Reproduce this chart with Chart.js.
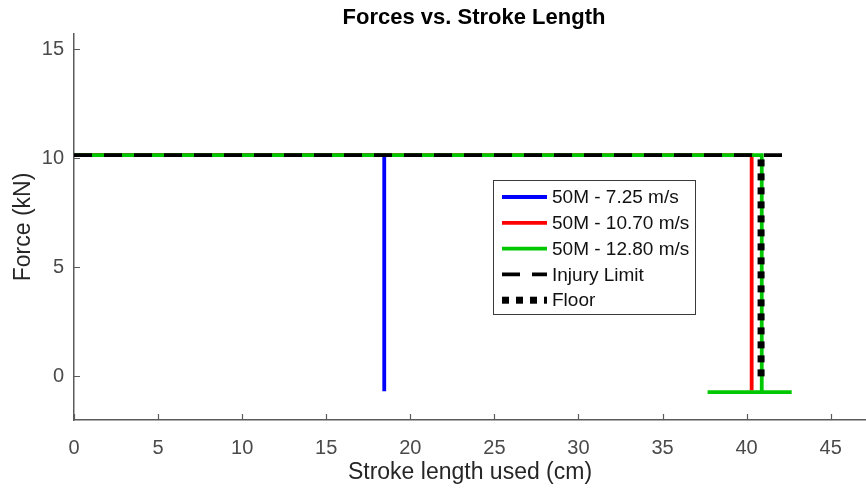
<!DOCTYPE html>
<html>
<head>
<meta charset="utf-8">
<script src="https://cdn.jsdelivr.net/npm/chart.js@4.4.1/dist/chart.umd.min.js"></script>
<style>
  body { margin: 0; background: #fff; }
  canvas { display: block; }
</style>
</head>
<body>
<canvas id="forceChart" width="866" height="489"></canvas>
<script>
// values (x in cm, y in kN)
const seriesLabels = ['50M - 7.25 m/s', '50M - 10.70 m/s', '50M - 12.80 m/s', 'Injury Limit', 'Floor'];

const blueX = [0, 18.45, 18.45];
const blueY = [10.15, 10.15, -0.68];
const redX = [0, 40.3, 40.3];
const redY = [10.15, 10.15, -0.65];
const greenX = [0, 40.9, 40.9, 37.68, 42.68];
const greenY = [10.15, 10.15, -0.72, -0.72, -0.72];
const injuryX = [0, 42.3];
const injuryY = [10.15, 10.15];
const floorX = [40.86, 40.86];
const floorY = [0, 10];

const xTicks = [0, 5, 10, 15, 20, 25, 30, 35, 40, 45];
const yTicks = [0, 5, 10, 15];

const FONT = '"Liberation Sans", Arial, sans-serif';

function pts(xs, ys) {
    return xs.map((x, i) => ({ x: x, y: ys[i] }));
}

function series(i, xs, ys, color, width, dash, order) {
    return {
        label: seriesLabels[i],
        data: pts(xs, ys),
        borderColor: color,
        backgroundColor: color,
        borderWidth: width,
        borderDash: dash,
        borderCapStyle: 'butt',
        borderJoinStyle: 'miter',
        showLine: true,
        pointRadius: 0,
        tension: 0,
        order: order
    };
}

// title centred over the plot area, like the original figure
const titlePlugin = {
    id: 'plotTitle',
    afterDraw(chart) {
        const { ctx, chartArea } = chart;
        ctx.save();
        ctx.font = 'bold 22px ' + FONT;
        ctx.fillStyle = '#000';
        ctx.textAlign = 'center';
        ctx.textBaseline = 'middle';
        ctx.fillText('Forces vs. Stroke Length', (chartArea.left + chartArea.right) / 2 + 4, 18);
        ctx.restore();
    }
};

// small inward tick marks
const tickPlugin = {
    id: 'inTicks',
    afterDraw(chart) {
        const { ctx, chartArea, scales } = chart;
        ctx.save();
        ctx.strokeStyle = '#5a5a5a';
        ctx.lineWidth = 1.2;
        ctx.beginPath();
        xTicks.forEach(v => {
            const px = Math.round(scales.x.getPixelForValue(v)) + 0.5;
            ctx.moveTo(px, chartArea.bottom);
            ctx.lineTo(px, chartArea.bottom - 6);
        });
        yTicks.forEach(v => {
            const py = Math.round(scales.y.getPixelForValue(v)) + 0.5;
            ctx.moveTo(chartArea.left, py);
            ctx.lineTo(chartArea.left + 6, py);
        });
        ctx.stroke();
        ctx.restore();
    }
};

// boxed legend inside the plot
const legendPlugin = {
    id: 'boxLegend',
    afterDraw(chart) {
        const { ctx, chartArea } = chart;
        const left = chartArea.left + 419.5;
        const top = chartArea.top + 146.5;
        ctx.save();
        ctx.fillStyle = '#fff';
        ctx.fillRect(left, top, 202, 134);
        ctx.strokeStyle = '#3a3a3a';
        ctx.lineWidth = 1;
        ctx.strokeRect(left, top, 202, 134);
        chart.data.datasets.forEach((ds, i) => {
            const y = top + 16.5 + i * 25.8;
            ctx.beginPath();
            ctx.strokeStyle = ds.borderColor;
            ctx.lineWidth = ds.borderWidth;
            ctx.lineCap = 'butt';
            ctx.setLineDash(ds.borderDash || []);
            ctx.moveTo(left + 8.5, y);
            ctx.lineTo(left + 53.5, y);
            ctx.stroke();
            ctx.setLineDash([]);
            ctx.fillStyle = '#111';
            ctx.font = '19px ' + FONT;
            ctx.textAlign = 'left';
            ctx.textBaseline = 'middle';
            ctx.fillText(ds.label, left + 58.5, y + 1);
        });
        ctx.restore();
    }
};

new Chart(document.getElementById('forceChart'), {
    type: 'scatter',
    data: {
        datasets: [
            series(0, blueX, blueY, '#0000ff', 3.8, [], 5),
            series(1, redX, redY, '#ff0000', 3.8, [], 4),
            series(2, greenX, greenY, '#00c800', 3.8, [], 3),
            series(3, injuryX, injuryY, '#000000', 3.8, [18, 12], 2),
            series(4, floorX, floorY, '#000000', 7, [7, 7], 1)
        ]
    },
    options: {
        responsive: false,
        animation: false,
        devicePixelRatio: 1,
        layout: { padding: { top: 34, left: 0, right: 0, bottom: 0 } },
        plugins: {
            legend: { display: false },
            tooltip: { enabled: false },
            title: { display: false }
        },
        scales: {
            x: {
                type: 'linear',
                min: 0,
                max: 47.1,
                afterBuildTicks: s => { s.ticks = xTicks.map(v => ({ value: v })); },
                afterFit: s => { s.height = 69; },
                grid: { display: false, drawTicks: false },
                border: { display: true, color: '#5a5a5a', width: 1.5 },
                ticks: {
                    padding: 16,
                    color: '#4a4a4a',
                    font: { family: FONT, size: 20 },
                    maxRotation: 0
                },
                title: {
                    display: true,
                    text: 'Stroke length used (cm)',
                    color: '#262626',
                    font: { family: FONT, size: 23 },
                    padding: { top: 0, bottom: 3 }
                }
            },
            y: {
                type: 'linear',
                min: -2,
                max: 15.7,
                afterBuildTicks: s => { s.ticks = yTicks.map(v => ({ value: v })); },
                afterFit: s => { s.width = 74; },
                grid: { display: false, drawTicks: false },
                border: { display: true, color: '#5a5a5a', width: 1.5 },
                ticks: {
                    padding: 10,
                    color: '#4a4a4a',
                    font: { family: FONT, size: 20 }
                },
                title: {
                    display: true,
                    text: 'Force (kN)',
                    color: '#262626',
                    font: { family: FONT, size: 23 },
                    padding: { top: 10, bottom: 0 }
                }
            }
        }
    },
    plugins: [titlePlugin, tickPlugin, legendPlugin]
});
</script>
</body>
</html>
